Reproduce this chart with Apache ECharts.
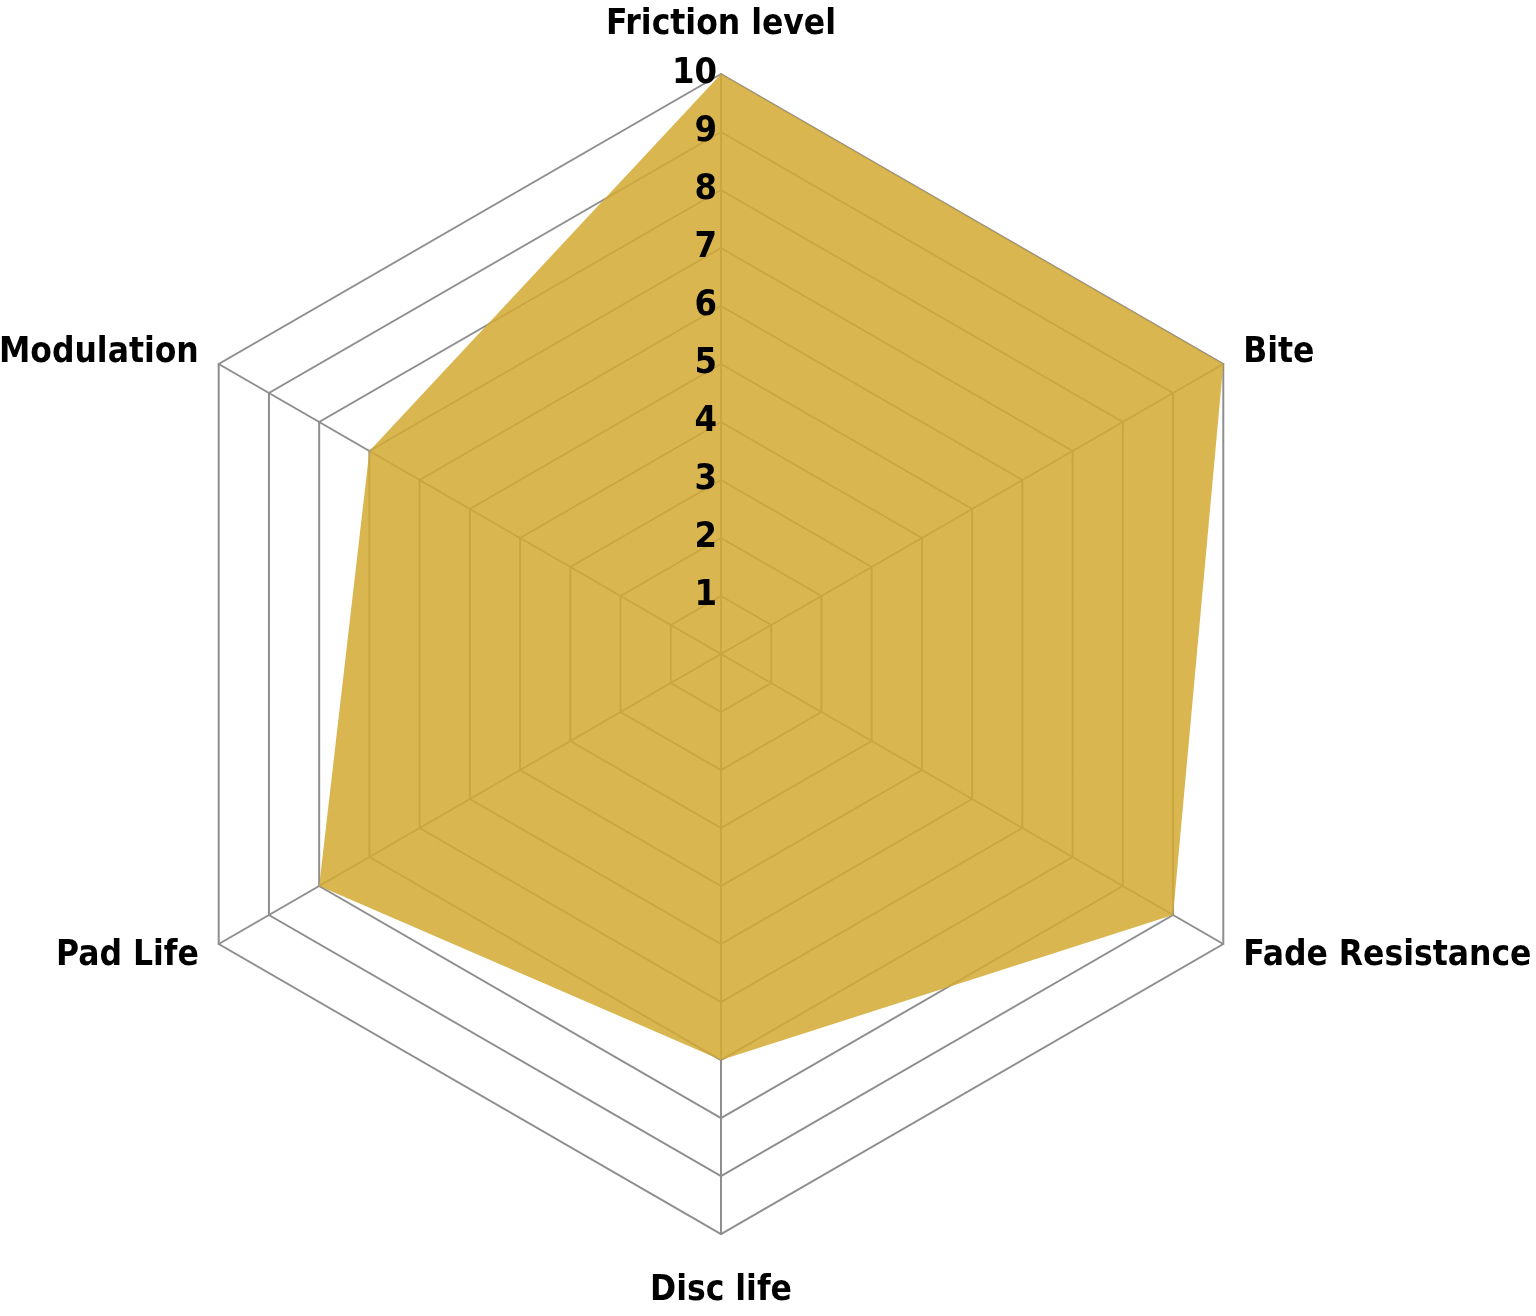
<!DOCTYPE html>
<html>
<head>
<meta charset="utf-8">
<script src="https://cdn.jsdelivr.net/npm/echarts@6/dist/echarts.min.js"></script>
<style>
html,body{margin:0;padding:0;background:#fff;}
#chart{width:1536px;height:1316px;}
</style>
</head>
<body>
<div id="chart"></div>
<script>
// Indicators listed counter-clockwise from the top (ECharts default direction)
const indicatorNames = ['Friction level', 'Modulation', 'Pad Life', 'Disc life', 'Fade Resistance', 'Bite'];
const values = [10, 7, 8, 7, 9, 10];
const maxValue = 10;

const FONT = "'DejaVu Sans Condensed', 'Liberation Sans Narrow', sans-serif";
const CENTER = [721, 654];
const RADIUS = 580;
// per-indicator name padding (layout only)
const namePads = [[0, 0, 9, 0], [0, 0, 11, 0], [11, 0, 0, 0], [16, 0, 0, 0], [11, 0, 0, 0], [0, 0, 11, 0]];

const chart = echarts.init(document.getElementById('chart'));
chart.setOption({
  backgroundColor: '#ffffff',
  animation: false,
  radar: [{
    center: CENTER,
    radius: RADIUS,
    startAngle: 90,
    splitNumber: 10,
    shape: 'polygon',
    nameGap: 23,
    axisName: {
      color: '#000',
      fontSize: 35,
      fontWeight: 'bold',
      fontFamily: FONT
    },
    indicator: indicatorNames.map((n, i) => ({
      name: n, min: 0, max: maxValue,
      nameTextStyle: { padding: namePads[i] }
    })),
    splitLine: { lineStyle: { color: '#8e8e8e', width: 2 } },
    splitArea: { show: false },
    axisLine: { lineStyle: { color: '#8e8e8e', width: 2 } },
    axisTick: { show: false },
    axisLabel: { show: false }
  }, {
    // overlay radar carrying only the value labels, drawn above the filled area
    z: 10,
    center: CENTER,
    radius: RADIUS,
    startAngle: 90,
    splitNumber: 10,
    shape: 'polygon',
    axisName: { show: false },
    indicator: indicatorNames.map((n, i) => i === 0
      ? { name: n, min: 0, max: maxValue, axisLabel: { show: true } }
      : { name: n, min: 0, max: maxValue }),
    splitLine: { show: false },
    splitArea: { show: false },
    axisLine: { show: false },
    axisTick: { show: false },
    axisLabel: {
      show: false,
      showMinLabel: false,
      color: '#000',
      fontSize: 36,
      fontWeight: 'bold',
      fontFamily: FONT,
      margin: 4
    }
  }],
  series: [{
    type: 'radar',
    radarIndex: 0,
    symbol: 'none',
    lineStyle: { width: 0 },
    areaStyle: { color: 'rgba(212,170,52,0.86)', opacity: 1 },
    data: [{ value: values, name: 'Pads' }]
  }]
});
</script>
</body>
</html>
